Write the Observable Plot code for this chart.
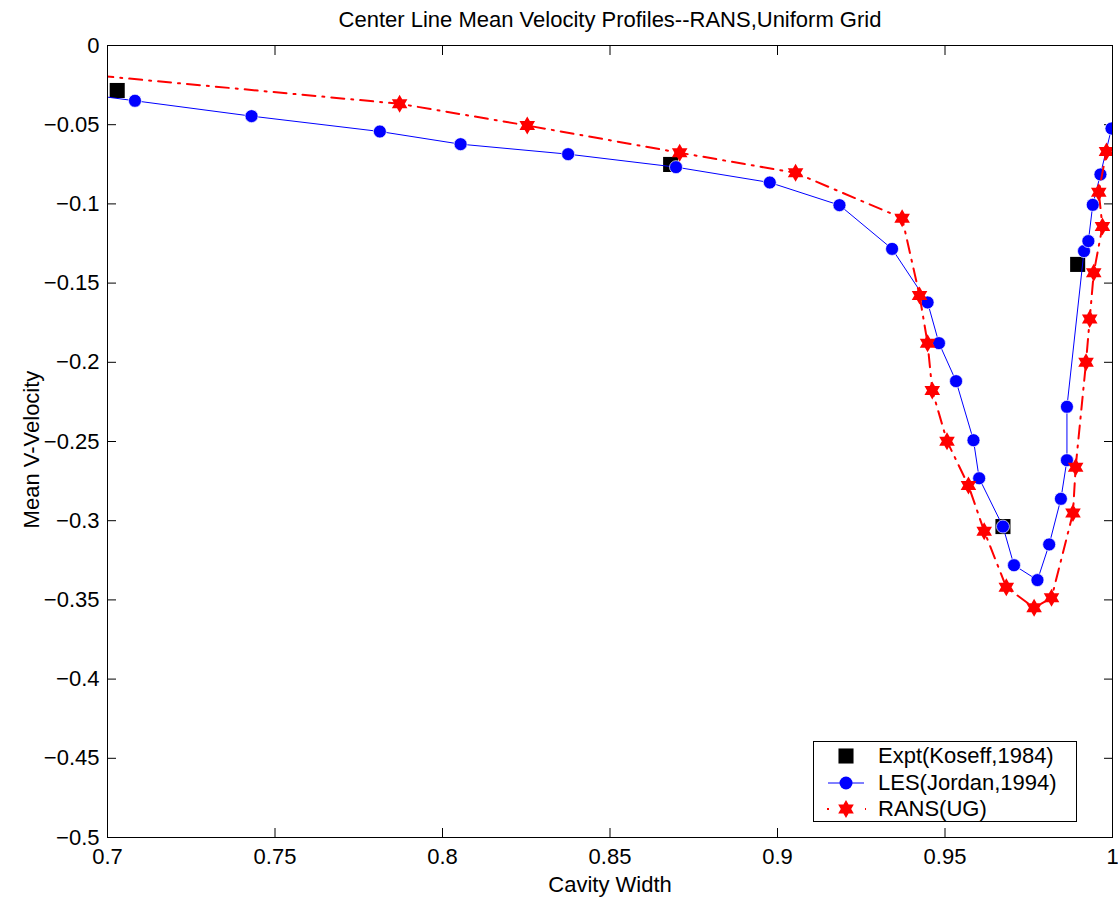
<!DOCTYPE html>
<html>
<head>
<meta charset="utf-8">
<script src="https://cdn.jsdelivr.net/npm/d3@7"></script>
<script src="https://cdn.jsdelivr.net/npm/@observablehq/plot@0.6"></script>
<style>
  body { margin: 0; background: #fff; font-family: "Liberation Sans", Arial, Helvetica, sans-serif; }
  #wrap { position: relative; width: 1118px; height: 903px; }
  #legend { position: absolute; left: 813px; top: 741px; width: 262px; height: 79px; border: 1px solid #000; background: #fff; font-size: 22px; color: #000; }
  .row { position: absolute; left: 0; height: 26px; display: flex; align-items: center; white-space: nowrap; }
  .row svg { display: block; }
</style>
</head>
<body>
<div id="wrap"></div>
<script>
// ---- Data ----
const title = "Center Line Mean Velocity Profiles--RANS,Uniform Grid";
const xLabel = "Cavity Width";
const yLabel = "Mean V-Velocity";
const xTicks = [0.7, 0.75, 0.8, 0.85, 0.9, 0.95, 1];
const yTicks = [0, -0.05, -0.1, -0.15, -0.2, -0.25, -0.3, -0.35, -0.4, -0.45, -0.5];

const seriesNames = ["Expt(Koseff,1984)", "LES(Jordan,1994)", "RANS(UG)"];

const exptX = [0.7029, 0.8681, 0.9673, 0.9896];
const exptY = [-0.0284, -0.0751, -0.3037, -0.1382];

const lesX = [0.675, 0.7082, 0.743, 0.7813, 0.8054, 0.8375, 0.8697, 0.8977, 0.9185, 0.9342,
              0.9448, 0.9482, 0.9533, 0.9585, 0.9602, 0.9673, 0.9706, 0.9776, 0.9811, 0.9846,
              0.9864, 0.9864, 0.9915, 0.9928, 0.9941, 0.9964, 0.9997];
const lesY = [-0.0256, -0.0349, -0.0446, -0.0543, -0.0623, -0.0686, -0.0768, -0.0865, -0.1008, -0.1284,
              -0.1622, -0.1879, -0.2119, -0.2492, -0.2732, -0.3037, -0.3281, -0.3375, -0.3150, -0.2862,
              -0.2618, -0.2281, -0.1298, -0.1235, -0.1006, -0.0814, -0.0524];

const ransX = [0.672, 0.7872, 0.8253, 0.8708, 0.9054, 0.9372, 0.9424, 0.9448, 0.9462, 0.9506,
               0.9570, 0.9617, 0.9683, 0.9766, 0.9818, 0.9882, 0.9890, 0.9921, 0.9932, 0.9944,
               0.9970, 0.9959, 0.9982];
const ransY = [-0.0141, -0.0368, -0.0505, -0.0677, -0.0804, -0.1090, -0.1578, -0.1879, -0.2178, -0.2498,
               -0.2778, -0.3066, -0.3420, -0.3550, -0.3487, -0.2952, -0.2662, -0.1999, -0.1726, -0.1435,
               -0.1143, -0.0926, -0.0669];

// ---- Build tables ----
const expt = exptX.map((x, i) => ({x, y: exptY[i]}));
const les = lesX.map((x, i) => ({x, y: lesY[i]}));
const rans = ransX.map((x, i) => ({x, y: ransY[i]}));

const hexagram = {
  draw(ctx, size) {
    const R = Math.sqrt(size / Math.PI);
    const r = R / Math.sqrt(3);
    for (let i = 0; i < 12; i++) {
      const a = -Math.PI / 2 + i * Math.PI / 6;
      const rr = i % 2 ? r : R;
      const px = rr * Math.cos(a), py = rr * Math.sin(a);
      if (i) ctx.lineTo(px, py); else ctx.moveTo(px, py);
    }
    ctx.closePath();
  }
};

const fmt = d3.format("~g");
const blank = () => "";
const BLUE = "#0000ff", RED = "#ff0000";
const FS = 22;

const chart = Plot.plot({
  width: 1118,
  height: 903,
  marginLeft: 107,
  marginRight: 6,
  marginTop: 45,
  marginBottom: 66,
  style: {fontFamily: '"Liberation Sans", Arial, Helvetica, sans-serif', fontSize: FS + "px", background: "#fff", color: "#000"},
  x: {domain: [0.7, 1]},
  y: {domain: [-0.5, 0]},
  marks: [
    Plot.axisX(xTicks, {anchor: "bottom", tickSize: -9, tickFormat: blank, label: null}),
    Plot.axisX(xTicks, {anchor: "top", tickSize: -9, tickFormat: blank, label: null}),
    Plot.axisX(xTicks, {anchor: "bottom", tickSize: 0, tickPadding: 11, tickFormat: fmt, label: null}),
    Plot.axisY(yTicks, {anchor: "left", tickSize: -9, tickFormat: blank, label: null}),
    Plot.axisY(yTicks, {anchor: "right", tickSize: -9, tickFormat: blank, label: null}),
    Plot.axisY(yTicks, {anchor: "left", tickSize: 0, tickPadding: 8, tickFormat: fmt, label: null}),
    Plot.dot(expt, {x: "x", y: "y", symbol: "square", r: 8.5, fill: "#000", stroke: null, clip: true}),
    Plot.line(les, {x: "x", y: "y", stroke: BLUE, strokeWidth: 1, clip: true}),
    Plot.dot(les, {x: "x", y: "y", r: 6.5, fill: BLUE, stroke: "#fff", strokeWidth: 0.7, clip: true}),
    Plot.line(rans, {x: "x", y: "y", stroke: RED, strokeWidth: 2, strokeDasharray: "13,7,2,7", clip: true}),
    Plot.dot(rans, {x: "x", y: "y", symbol: hexagram, r: 9, fill: RED, stroke: null, clip: true}),
    Plot.frame({stroke: "#000", strokeWidth: 1}),
    Plot.text([title], {text: d => d, frameAnchor: "top", lineAnchor: "middle", textAnchor: "middle", dy: -26, fontSize: FS}),
    Plot.text([xLabel], {text: d => d, frameAnchor: "bottom", lineAnchor: "middle", textAnchor: "middle", dy: 47, fontSize: FS}),
    Plot.text([yLabel], {text: d => d, frameAnchor: "left", lineAnchor: "middle", textAnchor: "middle", rotate: -90, dx: -76, dy: 8, fontSize: FS})
  ]
});

const wrap = document.getElementById("wrap");
wrap.appendChild(chart);

// ---- Legend (HTML overlay) ----
const legend = document.createElement("div");
legend.id = "legend";
const sym = (type, r) => d3.symbol(type, Math.PI * r * r)();
const markers = [
  `<svg width="64" height="26"><path transform="translate(32,13)" d="${sym(d3.symbolSquare, 8.5)}" fill="#000"/></svg>`,
  `<svg width="64" height="26"><line x1="14" x2="50" y1="13" y2="13" stroke="${BLUE}" stroke-width="1"/><path transform="translate(32,13)" d="${sym(d3.symbolCircle, 6.5)}" fill="${BLUE}"/></svg>`,
  `<svg width="64" height="26"><line x1="13" x2="52" y1="13" y2="13" stroke="${RED}" stroke-width="2" stroke-dasharray="2,17"/><path transform="translate(32,13)" d="${d3.symbol(hexagram, Math.PI * 81)()}" fill="${RED}"/></svg>`
];
seriesNames.forEach((name, i) => {
  const row = document.createElement("div");
  row.className = "row";
  row.style.top = (1 + i * 26.5) + "px";
  row.innerHTML = markers[i] + `<span>${name}</span>`;
  legend.appendChild(row);
});
wrap.appendChild(legend);
</script>
</body>
</html>
